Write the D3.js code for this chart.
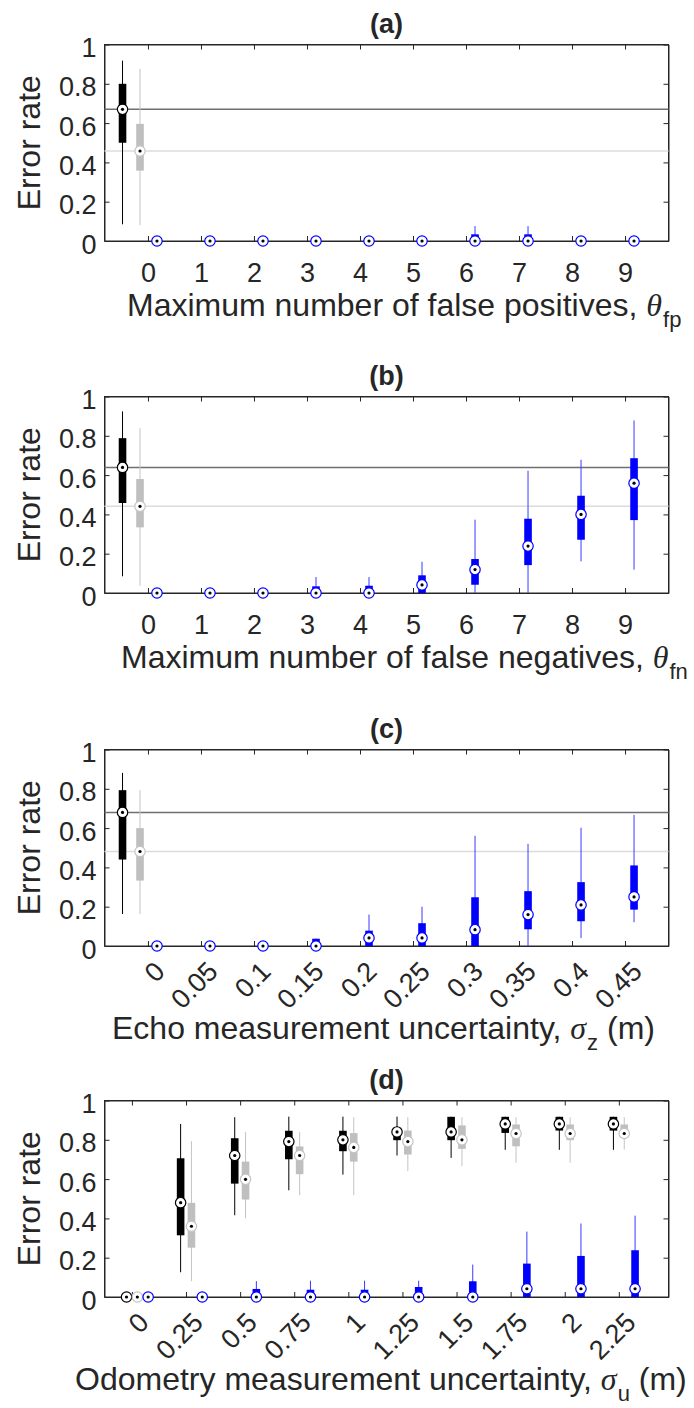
<!DOCTYPE html>
<html>
<head>
<meta charset="utf-8">
<script src="https://cdn.jsdelivr.net/npm/d3@7/dist/d3.min.js"></script>
<style>
  body { margin: 0; background: #ffffff; }
  svg { display: block; }
  text { font-family: "Liberation Sans", Arial, Helvetica, sans-serif; fill: #262626; }
</style>
</head>
<body>
<svg id="chart" width="694" height="1408"></svg>
<script>
// ---------------- DATA ----------------
const yTickValues = [0, 0.2, 0.4, 0.6, 0.8, 1];
const yTickLabels = ["0", "0.2", "0.4", "0.6", "0.8", "1"];

// stats per box: [whiskerLow, q1, median, q3, whiskerHigh]
const catsA = ["0", "1", "2", "3", "4", "5", "6", "7", "8", "9"];
const blackA = [0.085, 0.50, 0.67, 0.80, 0.918];
const grayA  = [0.08, 0.358, 0.458, 0.596, 0.876];
const blueA = [
  [0, 0, 0, 0, 0], [0, 0, 0, 0, 0], [0, 0, 0, 0, 0], [0, 0, 0, 0, 0], [0, 0, 0, 0, 0],
  [0, 0, 0, 0, 0], [0, 0, 0, 0.034, 0.076], [0, 0, 0, 0.034, 0.076], [0, 0, 0, 0, 0], [0, 0, 0, 0, 0]
];

const catsB = ["0", "1", "2", "3", "4", "5", "6", "7", "8", "9"];
const blackB = [0.085, 0.458, 0.639, 0.788, 0.924];
const grayB  = [0.037, 0.334, 0.441, 0.58, 0.839];
const blueB = [
  [0, 0, 0, 0, 0], [0, 0, 0, 0, 0], [0, 0, 0, 0, 0],
  [0, 0, 0, 0.034, 0.081], [0, 0, 0, 0.037, 0.081],
  [0, 0, 0.041, 0.09, 0.159], [0, 0.042, 0.119, 0.173, 0.373],
  [0, 0.142, 0.239, 0.378, 0.622], [0.161, 0.271, 0.40, 0.495, 0.678],
  [0.119, 0.371, 0.559, 0.686, 0.878]
];

const catsC = ["0", "0.05", "0.1", "0.15", "0.2", "0.25", "0.3", "0.35", "0.4", "0.45"];
const blackC = [0.163, 0.44, 0.68, 0.793, 0.881];
const grayC  = [0.163, 0.333, 0.481, 0.60, 0.793];
const blueC = [
  [0, 0, 0, 0, 0], [0, 0, 0, 0, 0], [0, 0, 0, 0, 0],
  [0, 0, 0, 0.037, 0.037], [0, 0, 0.041, 0.078, 0.16],
  [0, 0, 0.041, 0.116, 0.2], [0, 0, 0.083, 0.248, 0.561],
  [0, 0.085, 0.16, 0.279, 0.52], [0.041, 0.126, 0.209, 0.325, 0.602],
  [0.121, 0.185, 0.25, 0.41, 0.667]
];

const catsD = ["0", "0.25", "0.5", "0.75", "1", "1.25", "1.5", "1.75", "2", "2.25"];
const blackD = [
  [0, 0, 0, 0, 0], [0.126, 0.314, 0.48, 0.706, 0.881], [0.416, 0.577, 0.72, 0.808, 0.915],
  [0.543, 0.701, 0.791, 0.846, 0.918], [0.623, 0.742, 0.80, 0.846, 0.918],
  [0.72, 0.798, 0.84, 0.846, 0.918], [0.708, 0.798, 0.84, 0.917, 0.917],
  [0.749, 0.835, 0.881, 0.917, 0.917], [0.749, 0.847, 0.881, 0.917, 0.917],
  [0.749, 0.847, 0.881, 0.917, 0.917]
];
const grayD = [
  [0, 0, 0, 0, 0], [0.08, 0.251, 0.36, 0.479, 0.793], [0.40, 0.496, 0.599, 0.689, 0.84],
  [0.518, 0.625, 0.72, 0.766, 0.84], [0.518, 0.689, 0.761, 0.834, 0.915],
  [0.64, 0.725, 0.791, 0.847, 0.915], [0.666, 0.754, 0.80, 0.873, 0.915],
  [0.683, 0.767, 0.832, 0.878, 0.915], [0.683, 0.798, 0.832, 0.878, 0.915],
  [0.75, 0.81, 0.832, 0.878, 0.915]
];
const blueD = [
  [0, 0, 0, 0, 0], [0, 0, 0, 0, 0], [0, 0, 0, 0.041, 0.081],
  [0, 0, 0, 0.037, 0.083], [0, 0, 0, 0.037, 0.083], [0, 0, 0, 0.051, 0.083],
  [0, 0, 0, 0.08, 0.165], [0, 0, 0.042, 0.17, 0.333],
  [0, 0, 0.042, 0.209, 0.374], [0, 0, 0.042, 0.238, 0.414]
];

const titles = ["(a)", "(b)", "(c)", "(d)"];
const yLabel = "Error rate";
const xLabelA = ["Maximum number of false positives, ", "θ", "fp", ""];
const xLabelB = ["Maximum number of false negatives, ", "θ", "fn", ""];
const xLabelC = ["Echo measurement uncertainty, ", "σ", "z", " (m)"];
const xLabelD = ["Odometry measurement uncertainty, ", "σ", "u", " (m)"];

// ---------------- LAYOUT / STYLE ----------------
const PL = 104.5, PR = 668.5, PH = 196.5;
const panelTops = [44.5, 396.5, 749.5, 1100.5];
const BOXW = 7.6;
const AXC = "#262626";
const TICKFS = 27;
const COL = {
  black: { box: "#000000", whisk: "#000000", ring: "#000000", ref: "#6f6f6f" },
  gray:  { box: "#bfbfbf", whisk: "#c4c4c4", ring: "#c4c4c4", ref: "#dcdcdc" },
  blue:  { box: "#0000ff", whisk: "#3a3aff", ring: "#0000ff" }
};

const panels = [
  { cats: catsA, lead: true, black: [blackA], gray: [grayA], blue: blueA, xl: xLabelA,
    domain: [-0.82, 9.82], off: { black: -0.48, gray: -0.15, blue: 0.17 }, rotated: false, xlX: 127, xlDY: 75 },
  { cats: catsB, lead: true, black: [blackB], gray: [grayB], blue: blueB, xl: xLabelB,
    domain: [-0.82, 9.82], off: { black: -0.48, gray: -0.15, blue: 0.17 }, rotated: false, xlX: 121, xlDY: 75 },
  { cats: catsC, lead: true, black: [blackC], gray: [grayC], blue: blueC, xl: xLabelC,
    domain: [-0.82, 9.82], off: { black: -0.48, gray: -0.15, blue: 0.17 }, rotated: true, xlX: 112, xlDY: 93 },
  { cats: catsD, lead: false, black: blackD, gray: grayD, blue: blueD, xl: xLabelD,
    domain: [-0.507, 9.918], off: { black: -0.1, gray: 0.1, blue: 0.3 }, rotated: true, xlX: 75, xlDY: 93 }
];

const svg = d3.select("#chart");

function drawBox(g, xs, y, xpos, s, c) {
  const [lo, q1, med, q3, hi] = s;
  const cx = xs(xpos);
  g.append("line")
    .attr("x1", cx).attr("x2", cx)
    .attr("y1", y(lo)).attr("y2", y(hi))
    .attr("stroke", c.whisk).attr("stroke-width", 1);
  if (q3 > q1) {
    g.append("rect")
      .attr("x", cx - BOXW / 2).attr("width", BOXW)
      .attr("y", y(q3)).attr("height", y(q1) - y(q3))
      .attr("fill", c.box);
  }
  g.append("circle").attr("cx", cx).attr("cy", y(med)).attr("r", 5.2)
    .attr("fill", "#ffffff").attr("stroke", c.ring).attr("stroke-width", 1.2);
  g.append("circle").attr("cx", cx).attr("cy", y(med)).attr("r", 1.6).attr("fill", "#000000");
}

panels.forEach((p, i) => {
  const top = panelTops[i];
  const bottom = top + PH;
  const g = svg.append("g");
  const x = d3.scaleLinear().domain(p.domain).range([PL, PR]);
  const y = d3.scaleLinear().domain([0, 1]).range([bottom, top]);
  const idx = p.cats.map((c, k) => k);

  // frame
  g.append("rect").attr("x", PL).attr("y", top).attr("width", PR - PL).attr("height", PH)
    .attr("fill", "none").attr("stroke", AXC).attr("stroke-width", 1);

  // axes (ticks inward on all four sides)
  const axB = g.append("g").attr("transform", `translate(0,${bottom})`)
    .call(d3.axisBottom(x).tickValues(idx).tickFormat(k => p.cats[k]).tickSizeInner(-5).tickSizeOuter(0));
  const axT = g.append("g").attr("transform", `translate(0,${top})`)
    .call(d3.axisTop(x).tickValues(idx).tickFormat("").tickSizeInner(-5).tickSizeOuter(0));
  const axL = g.append("g").attr("transform", `translate(${PL},0)`)
    .call(d3.axisLeft(y).tickValues(yTickValues).tickFormat((d, k) => yTickLabels[k]).tickSizeInner(-5).tickSizeOuter(0));
  const axR = g.append("g").attr("transform", `translate(${PR},0)`)
    .call(d3.axisRight(y).tickValues(yTickValues).tickFormat("").tickSizeInner(-5).tickSizeOuter(0));
  [axB, axT, axL, axR].forEach(a => {
    a.select(".domain").attr("stroke", AXC);
    a.selectAll(".tick line").attr("stroke", AXC);
  });
  axL.selectAll(".tick text")
    .attr("x", -8).attr("dy", null).attr("y", 12)
    .attr("font-size", TICKFS).attr("font-family", null).attr("fill", AXC).attr("text-anchor", "end");
  if (p.rotated) {
    axB.selectAll(".tick text")
      .attr("x", 0).attr("y", 0).attr("dy", null)
      .attr("transform", "translate(18,27) rotate(-45)")
      .attr("text-anchor", "end")
      .attr("font-size", TICKFS).attr("font-family", null).attr("fill", AXC);
  } else {
    axB.selectAll(".tick text")
      .attr("y", 41).attr("dy", null)
      .attr("font-size", TICKFS).attr("font-family", null).attr("fill", AXC);
  }

  // reference lines at lead medians
  const marks = g.append("g");
  if (p.lead) {
    marks.append("line").attr("x1", PL).attr("x2", PR)
      .attr("y1", y(p.black[0][2])).attr("y2", y(p.black[0][2]))
      .attr("stroke", COL.black.ref).attr("stroke-width", 1.5);
    marks.append("line").attr("x1", PL).attr("x2", PR)
      .attr("y1", y(p.gray[0][2])).attr("y2", y(p.gray[0][2]))
      .attr("stroke", COL.gray.ref).attr("stroke-width", 1.5);
    drawBox(marks, x, y, p.off.black, p.black[0], COL.black);
    drawBox(marks, x, y, p.off.gray, p.gray[0], COL.gray);
  } else {
    p.black.forEach((s, k) => drawBox(marks, x, y, k + p.off.black, s, COL.black));
    p.gray.forEach((s, k) => drawBox(marks, x, y, k + p.off.gray, s, COL.gray));
  }
  p.blue.forEach((s, k) => drawBox(marks, x, y, k + p.off.blue, s, COL.blue));

  // title
  g.append("text").attr("x", (PL + PR) / 2).attr("y", top - 12)
    .attr("text-anchor", "middle").attr("font-size", 27).attr("font-weight", "bold")
    .attr("fill", "#000").text(titles[i]);

  // y label
  g.append("text")
    .attr("transform", `translate(40,${(top + bottom) / 2}) rotate(-90)`)
    .attr("text-anchor", "middle").attr("font-size", 32).text(yLabel);

  // x label with TeX-like symbol and subscript
  const t = g.append("text").attr("x", p.xlX).attr("y", bottom + p.xlDY).attr("font-size", 32);
  t.append("tspan").text(p.xl[0]);
  t.append("tspan").attr("font-family", '"Liberation Serif", "DejaVu Serif", serif')
    .attr("font-style", "italic").text(p.xl[1]);
  t.append("tspan").attr("font-size", 22).attr("dy", 11).attr("dx", 1).text(p.xl[2]);
  if (p.xl[3]) t.append("tspan").attr("dy", -11).text(p.xl[3]);
});
</script>
</body>
</html>
